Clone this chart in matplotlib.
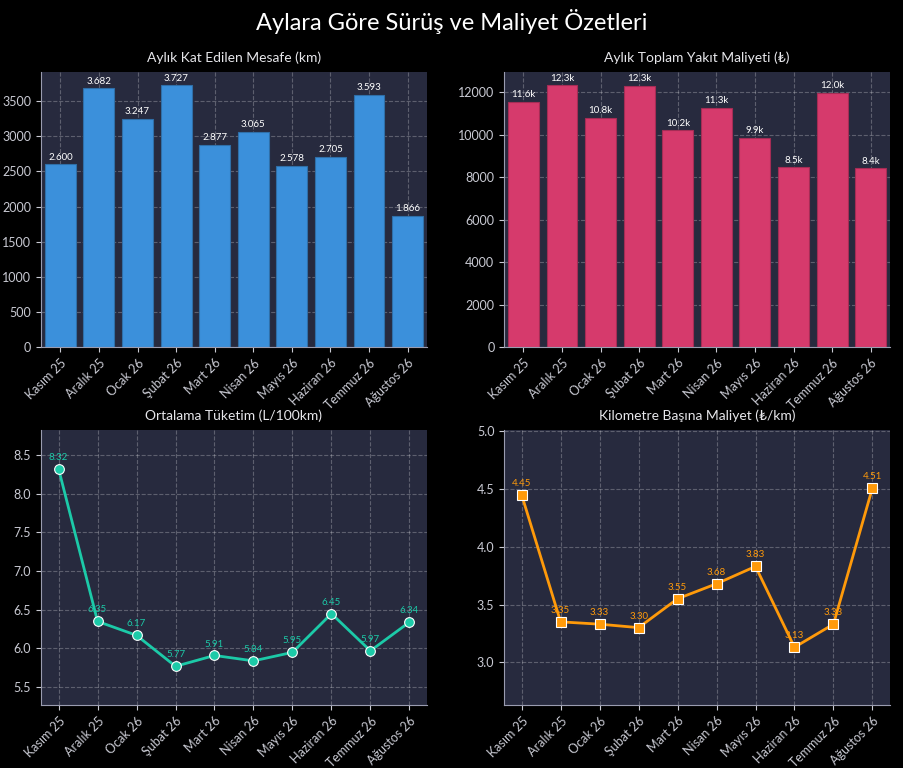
import matplotlib
matplotlib.use('Agg')
import matplotlib.pyplot as plt

plt.rcParams['font.family'] = ['Lato', 'DejaVu Sans']

aylar = ['Kasım 25', 'Aralık 25', 'Ocak 26', 'Şubat 26', 'Mart 26',
         'Nisan 26', 'Mayıs 26', 'Haziran 26', 'Temmuz 26', 'Ağustos 26']
mesafe = [2600, 3682, 3247, 3727, 2877, 3065, 2578, 2705, 3593, 1866]
maliyet = [11570, 12335, 10812, 12299, 10213, 11279, 9874, 8467, 11965, 8416]
tuketim = [8.32, 6.35, 6.17, 5.77, 5.91, 5.84, 5.95, 6.45, 5.97, 6.34]
km_maliyet = [4.45, 3.35, 3.33, 3.30, 3.55, 3.68, 3.83, 3.13, 3.33, 4.51]

bg = '#000000'
panel = '#272a3e'
yazi = '#c9cad3'

def bicimle(ax, baslik):
  ax.set_facecolor(panel)
  ax.set_title(baslik, color='#e6e6ea', fontsize=10, pad=7)
  ax.grid(True, linestyle='--', color='white', alpha=0.25, linewidth=0.8)
  ax.set_axisbelow(True)
  for s in ['top', 'right']:
    ax.spines[s].set_visible(False)
  for s in ['left', 'bottom']:
    ax.spines[s].set_color('#9a9cb0')
  ax.tick_params(colors=yazi, labelsize=9)
  x = list(range(len(aylar)))
  ax.set_xticks(x)
  ax.set_xticklabels(aylar, rotation=45, ha='right', rotation_mode='anchor')

fig, axs = plt.subplots(2, 2, figsize=(9.04, 7.68), dpi=100)
fig.patch.set_facecolor(bg)
fig.subplots_adjust(left=0.0454, right=0.9845, top=0.906, bottom=0.082, wspace=0.2, hspace=0.302)
fig.suptitle('Aylara Göre Sürüş ve Maliyet Özetleri', color='white', fontsize=17, y=0.988)

x = list(range(len(aylar)))

ax = axs[0, 0]
bicimle(ax, 'Aylık Kat Edilen Mesafe (km)')
ax.bar(x, mesafe, 0.8, color='#3b90db', edgecolor='#2f6fa8', linewidth=0.8)
for i, v in zip(x, mesafe):
  ax.annotate(f'{v:,}'.replace(',', '.'), (i, v), xytext=(0, 2), textcoords='offset points',
              ha='center', va='bottom', color='white', fontsize=7)
ax.set_xlim(-0.5, 9.5)
ax.set_ylim(0, max(mesafe) * 1.05)

ax = axs[0, 1]
bicimle(ax, 'Aylık Toplam Yakıt Maliyeti (₺)')
ax.bar(x, maliyet, 0.8, color='#d63a6c', edgecolor='#a52c55', linewidth=0.8)
for i, v in zip(x, maliyet):
  ax.annotate(f'{v/1000:.1f}k', (i, v), xytext=(0, 2), textcoords='offset points',
              ha='center', va='bottom', color='white', fontsize=7)
ax.set_xlim(-0.5, 9.5)
ax.set_ylim(0, max(maliyet) * 1.05)

ax = axs[1, 0]
bicimle(ax, 'Ortalama Tüketim (L/100km)')
ax.plot(x, tuketim, color='#1ccaa8', linewidth=2, marker='o', markersize=7,
        markeredgecolor='white', markeredgewidth=0.8)
for i, v in zip(x, tuketim):
  ax.annotate(f'{v:.2f}', (i, v), xytext=(0, 5), textcoords='offset points',
              ha='center', va='bottom', color='#1ccaa8', fontsize=7)
ax.set_ylim(min(tuketim) - 0.5, max(tuketim) + 0.5)

ax = axs[1, 1]
bicimle(ax, 'Kilometre Başına Maliyet (₺/km)')
ax.plot(x, km_maliyet, color='#ff9a0a', linewidth=2, marker='s', markersize=7,
        markeredgecolor='white', markeredgewidth=0.8)
for i, v in zip(x, km_maliyet):
  ax.annotate(f'{v:.2f}', (i, v), xytext=(0, 5), textcoords='offset points',
              ha='center', va='bottom', color='#ff9a0a', fontsize=7)
ax.set_ylim(min(km_maliyet) - 0.5, max(km_maliyet) + 0.5)

fig.savefig('out.png', facecolor=bg)
